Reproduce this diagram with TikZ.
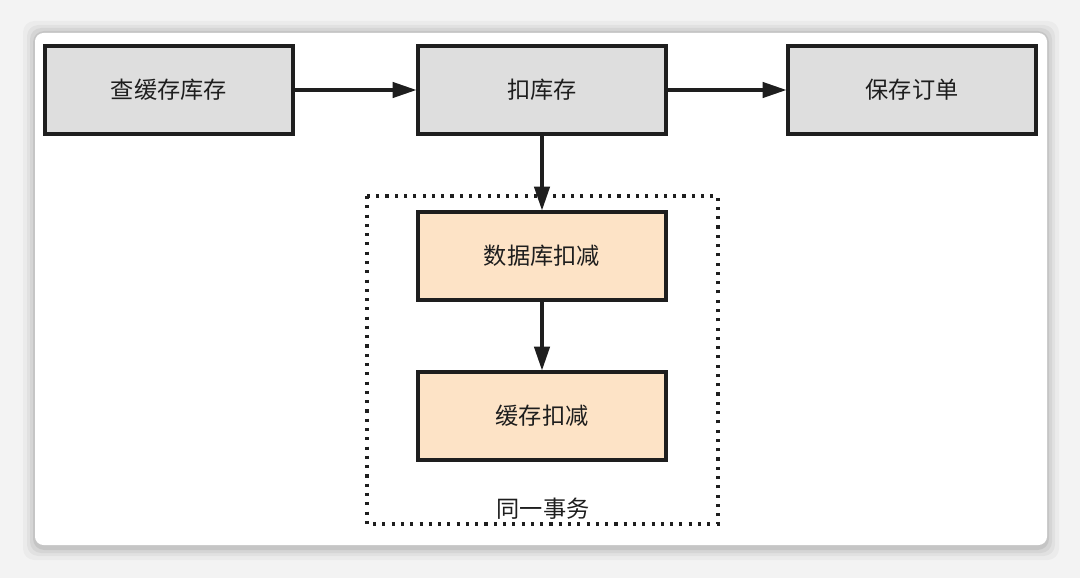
\documentclass[tikz,border=0pt]{standalone}
\usepackage{fontspec}
\setmainfont{Noto Sans CJK SC}
\usetikzlibrary{arrows.meta}

\definecolor{pagegray}{HTML}{F3F3F3}
\definecolor{boxgray}{HTML}{DEDEDE}
\definecolor{boxpeach}{HTML}{FDE3C6}
\definecolor{inkdark}{HTML}{1E1E1E}

\tikzset{
  stepbox/.style={draw=inkdark,line width=2.2pt,minimum width=6.2cm,minimum height=2.2cm,
    font=\fontsize{16.5}{20}\selectfont,text=inkdark},
  flow/.style={-{Triangle[length=17pt,width=11pt]},line width=2.2pt,draw=inkdark},
}

\begin{document}
\begin{tikzpicture}[x=0.025cm,y=-0.025cm]
      \useasboundingbox (0,0) rectangle (1080,578);
      % Page and card
      \fill[pagegray] (0,0) rectangle (1080,578);
      \foreach \s/\o in {12/0.03,8/0.04,5/0.05,2/0.07}
        \fill[black,opacity=\o,rounded corners=8pt] (35-\s,33-\s) rectangle (1047+\s,545+\s+3);
      \fill[white,rounded corners=6pt] (35,33) rectangle (1047,545);

      % Main flow
      \node[stepbox,fill=boxgray] (query) at (169,90) {查缓存库存};
      \node[stepbox,fill=boxgray] (deduct) at (542,90) {扣库存};
      \node[stepbox,fill=boxgray] (order) at (912,90) {保存订单};

      % Transaction
      \draw[inkdark,line width=2.2pt,dash pattern=on 2.2pt off 4.4pt] (367,196) rectangle (718,524);
      \node[stepbox,fill=boxpeach] (dbcut) at (542,256) {数据库扣减};
      \node[stepbox,fill=boxpeach] (cachecut) at (542,416) {缓存扣减};
      \node[font=\fontsize{16.5}{20}\selectfont,text=inkdark] (txn) at (543,509) {同一事务};

      % Arrows
      \draw[flow] (query) -- (deduct);
      \draw[flow] (deduct) -- (order);
      \draw[flow] (deduct) -- (dbcut);
      \draw[flow] (dbcut) -- (cachecut);
    \end{tikzpicture}
\end{document}
